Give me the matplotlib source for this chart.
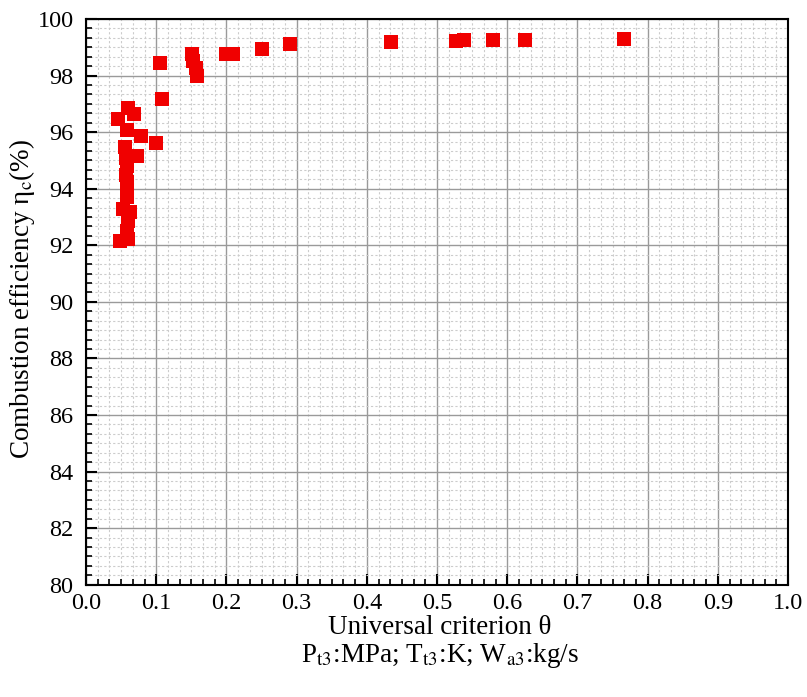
"""
Combustion efficiency vs universal criterion theta
"""

import matplotlib
matplotlib.use('Agg')
import matplotlib.pyplot as plt
from matplotlib.ticker import MultipleLocator, AutoMinorLocator

# Universal criterion theta
theta = [0.108, 0.0595, 0.069, 0.045, 0.058, 0.0786, 0.099, 0.0557, 0.072,
         0.057, 0.058, 0.057, 0.058, 0.059, 0.053, 0.063, 0.060, 0.058,
         0.0486, 0.060, 0.059,
         0.106, 0.151, 0.153, 0.156, 0.158, 0.199, 0.210, 0.250, 0.290,
         0.434, 0.527, 0.539, 0.580, 0.626, 0.767]

# Combustion efficiency (%)
eta = [97.17, 96.85, 96.64, 96.46, 96.07, 95.87, 95.60, 95.49, 95.17,
       95.10, 94.80, 94.50, 94.05, 93.70, 93.30, 93.17, 92.87, 92.52,
       92.17, 92.22, 94.25,
       98.46, 98.75, 98.52, 98.28, 97.99, 98.75, 98.75, 98.93, 99.13,
       99.20, 99.23, 99.26, 99.27, 99.27, 99.30]

plt.rcParams['font.family'] = ['Liberation Serif', 'DejaVu Serif']
plt.rcParams['mathtext.fontset'] = 'stix'

fig = plt.figure(figsize=(8.07, 6.97), dpi=100)
ax = fig.add_axes([0.1066, 0.161, 0.8699, 0.8117])

ax.plot(theta, eta, linestyle='none', marker='s', markersize=10,
        color='#f00000', markeredgewidth=0, zorder=3)

ax.set_xlim(0, 1.0)
ax.set_ylim(80, 100)
ax.xaxis.set_major_locator(MultipleLocator(0.1))
ax.yaxis.set_major_locator(MultipleLocator(2))
ax.xaxis.set_minor_locator(AutoMinorLocator(6))
ax.yaxis.set_minor_locator(AutoMinorLocator(6))
ax.set_xticklabels([f'{v:.1f}' for v in ax.get_xticks()])

ax.grid(which='major', color='#9a9a9a', linewidth=1.0, linestyle='-')
ax.grid(which='minor', color='#cccccc', linewidth=0.8, linestyle=(0, (2, 2)))
ax.set_axisbelow(True)

ax.tick_params(which='major', direction='in', length=8, width=1.5,
               labelsize=17.5, top=False, right=False)
ax.tick_params(axis='y', which='major', pad=9)
ax.tick_params(axis='x', which='major', pad=6)
ax.tick_params(which='minor', direction='in', length=4, width=1.2,
               top=False, right=False)
for s in ax.spines.values():
    s.set_linewidth(1.5)

fig.text(0.545, 0.099, 'Universal criterion θ', ha='center',
         va='center', fontsize=19.5)
fig.text(0.545, 0.060,
         r'P$_{\mathrm{t3}}$:MPa; T$_{\mathrm{t3}}$:K; W$_{\mathrm{a3}}$:kg/s',
         ha='center', va='center', fontsize=19.5)
fig.text(0.027, 0.571, r'Combustion efficiency η$_{\mathrm{c}}$(%)',
         ha='center', va='center', rotation=90, fontsize=19.5)

plt.savefig('out.png', dpi=100)
